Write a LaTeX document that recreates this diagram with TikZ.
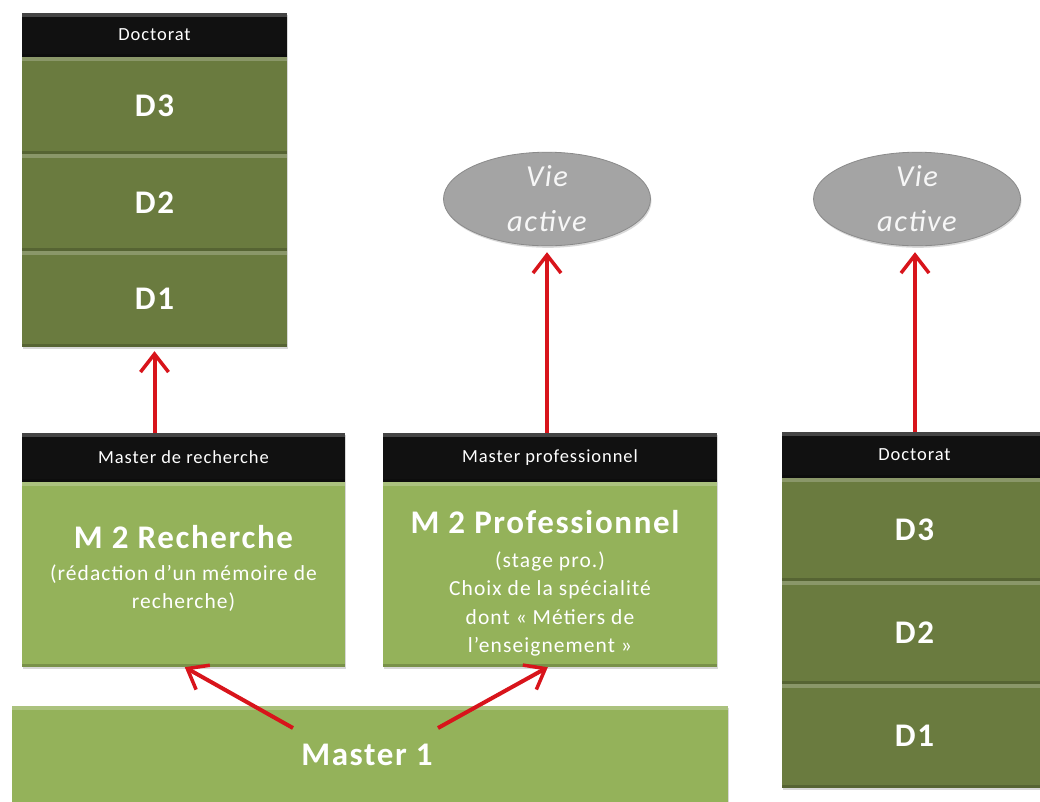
\documentclass[tikz,border=0pt]{standalone}
\usepackage{fontspec}
\setmainfont{Carlito}[LetterSpace=5]
\usetikzlibrary{arrows.meta,shadows,calc,shapes.geometric}
\definecolor{hdr}{HTML}{111111}
\definecolor{dgreen}{HTML}{6A7B3F}
\definecolor{lgreen}{HTML}{94B25A}
\definecolor{ared}{HTML}{D8141B}
\definecolor{egray}{HTML}{A4A4A4}
\definecolor{eborder}{HTML}{8A8A8A}
\tikzset{
  bevel/.style={path picture={
      \fill[white,opacity=0.22] (path picture bounding box.north west) rectangle ([yshift=-4pt]path picture bounding box.north east);
      \fill[black,opacity=0.18] ([yshift=3pt]path picture bounding box.south west) rectangle (path picture bounding box.south east);}},
  box/.style={rectangle, inner sep=0pt, text=white, align=center, bevel,
      drop shadow={shadow xshift=1pt, shadow yshift=-2pt, opacity=0.3}},
  hdrbox/.style={box, fill=hdr, font=\fontsize{18.5}{21}\selectfont},
  dbox/.style={box, fill=dgreen, font=\bfseries\fontsize{33}{38}\selectfont},
  mbox/.style={box, fill=lgreen},
  ttl/.style={text=white, font=\bfseries\fontsize{33}{38}\selectfont, inner sep=0pt},
  sub/.style={text=white, align=center, font=\fontsize{21.5}{28.5}\selectfont, inner sep=0pt},
  vie/.style={ellipse, fill=egray, draw=eborder, line width=0.8pt, minimum width=207, minimum height=82,
      inner sep=0pt, text=white!94!gray, align=center, font=\itshape\fontsize{30.5}{45}\selectfont,
      drop shadow={shadow xshift=1pt, shadow yshift=-2pt, opacity=0.3}},
  arr/.style={draw=ared, line width=4pt, -{Straight Barb[length=18pt, width=28pt, line width=3.5pt]}},
}
\begin{document}
\begin{tikzpicture}[x=1pt,y=-1pt]
\useasboundingbox (0,0) rectangle (1040,801);
\clip (0,0) rectangle (1040,801);
\fill[white] (0,0) rectangle (1040,801);
% left doctorat stack
\node[hdrbox, minimum width=265, minimum height=44] (dlh) at (154.5,35) {Doctorat};
\node[dbox, minimum width=265, minimum height=97] (dl3) at (154.5,105.5) {D3};
\node[dbox, minimum width=265, minimum height=97] (dl2) at (154.5,202.5) {D2};
\node[dbox, minimum width=265, minimum height=96] (dl1) at (154.5,299) {D1};
% master de recherche
\node[hdrbox, minimum width=323, minimum height=49] (m2rh) at (183.5,457.5) {Master de recherche};
\node[mbox, minimum width=323, minimum height=185] (m2r) at (183.5,574.5) {};
\node[ttl] (m2rt) at (183.5,537) {M 2 Recherche};
\node[sub] (m2rs) at (183.5,588) {(rédaction d’un mémoire de\\ recherche)};
% master professionnel
\node[hdrbox, minimum width=334, minimum height=49] (m2ph) at (550,457.5) {Master professionnel};
\node[mbox, minimum width=334, minimum height=185] (m2p) at (550,574.5) {};
\node[ttl] (m2pt) at (545,522) {M 2 Professionnel};
\node[sub] (m2ps) at (550,604) {(stage pro.)\\ Choix de la spécialité\\ dont « Métiers de\\ l’enseignement »};
% master 1
\node[mbox, minimum width=716, minimum height=104] (m1) at (370,758) {};
\node[ttl] (m1t) at (367,755) {Master 1};
% right doctorat stack
\node[hdrbox, minimum width=265, minimum height=46] (drh) at (914.5,455) {Doctorat};
\node[dbox, minimum width=265, minimum height=103] (dr3) at (914.5,529.5) {D3};
\node[dbox, minimum width=265, minimum height=103] (dr2) at (914.5,632.5) {D2};
\node[dbox, minimum width=265, minimum height=104] (dr1) at (914.5,736) {D1};
% vie active
\node[vie] (v1) at (547,199) {Vie\\ active};
\node[vie] (v2) at (917,199) {Vie\\ active};
% arrows
\draw[arr, shorten >=4pt] (m2rh.north -| dl1.south) -- (dl1.south);
\draw[arr, shorten >=6pt] (m2ph.north -| v1.south) -- (v1.south);
\draw[arr, shorten >=6pt] ([xshift=-2pt]drh.north -| v2.south) -- ([xshift=-2pt]v2.south);
\coordinate (a1) at (293,728);
\coordinate (a2) at (438,728);
\draw[arr] (a1) -- ([xshift=163pt]m2r.south west);
\draw[arr] (a2) -- ([xshift=165pt]m2p.south west);
\end{tikzpicture}
\end{document}
